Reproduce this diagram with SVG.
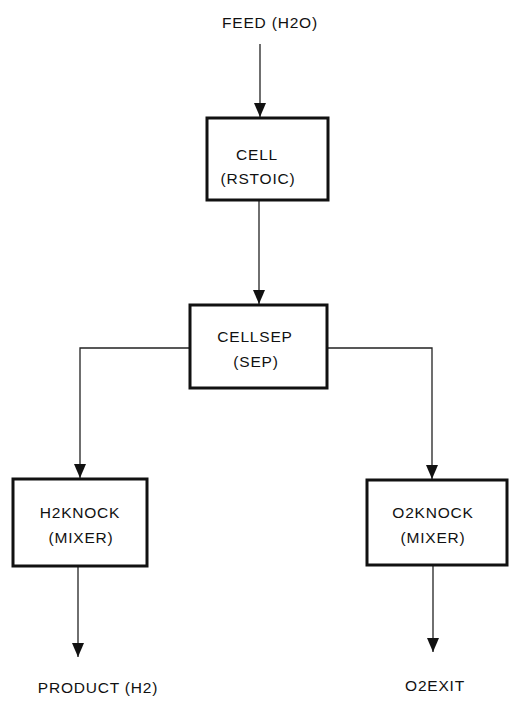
<svg xmlns="http://www.w3.org/2000/svg" width="513" height="702" viewBox="0 0 513 702">
<style>
.box{fill:#fff;stroke:#111;stroke-width:3}
.ln{fill:none;stroke:#222;stroke-width:1.3}
.t{font-family:"Liberation Sans",Arial,sans-serif;font-size:15.5px;fill:#111;text-anchor:middle;letter-spacing:0.8px}
</style>
<defs>
<marker id="ah" viewBox="0 0 14 12" refX="14" refY="6" markerWidth="14" markerHeight="12" markerUnits="userSpaceOnUse" orient="auto">
<path d="M0,0 L14,6 L0,12 Z" fill="#111"/>
</marker>
</defs>
<rect width="513" height="702" fill="#fff"/>
<g id="connectors">
<line class="ln" x1="260" y1="44" x2="260" y2="117" marker-end="url(#ah)"/>
<line class="ln" x1="259" y1="201" x2="259" y2="304" marker-end="url(#ah)"/>
<polyline class="ln" points="190,348 80,348 80,478" marker-end="url(#ah)"/>
<polyline class="ln" points="327,348 432,348 432,479" marker-end="url(#ah)"/>
<line class="ln" x1="78" y1="567" x2="78" y2="657" marker-end="url(#ah)"/>
<line class="ln" x1="433" y1="566" x2="433" y2="652" marker-end="url(#ah)"/>
</g>
<g id="feed"><text class="t" x="270" y="28">FEED (H2O)</text></g>
<g id="cell">
<rect class="box" x="207" y="118" width="121" height="82"/>
<text class="t" x="257" y="160">CELL</text>
<text class="t" x="258" y="184">(RSTOIC)</text>
</g>
<g id="cellsep">
<rect class="box" x="190" y="305" width="137" height="83"/>
<text class="t" x="255" y="342">CELLSEP</text>
<text class="t" x="256" y="367">(SEP)</text>
</g>
<g id="h2knock">
<rect class="box" x="13" y="479" width="134" height="87"/>
<text class="t" x="80" y="518">H2KNOCK</text>
<text class="t" x="81" y="543">(MIXER)</text>
</g>
<g id="o2knock">
<rect class="box" x="367" y="480" width="140" height="85"/>
<text class="t" x="433" y="518">O2KNOCK</text>
<text class="t" x="433" y="543">(MIXER)</text>
</g>
<g id="product"><text class="t" x="98" y="693">PRODUCT (H2)</text></g>
<g id="o2exit"><text class="t" x="435" y="691">O2EXIT</text></g>
</svg>
